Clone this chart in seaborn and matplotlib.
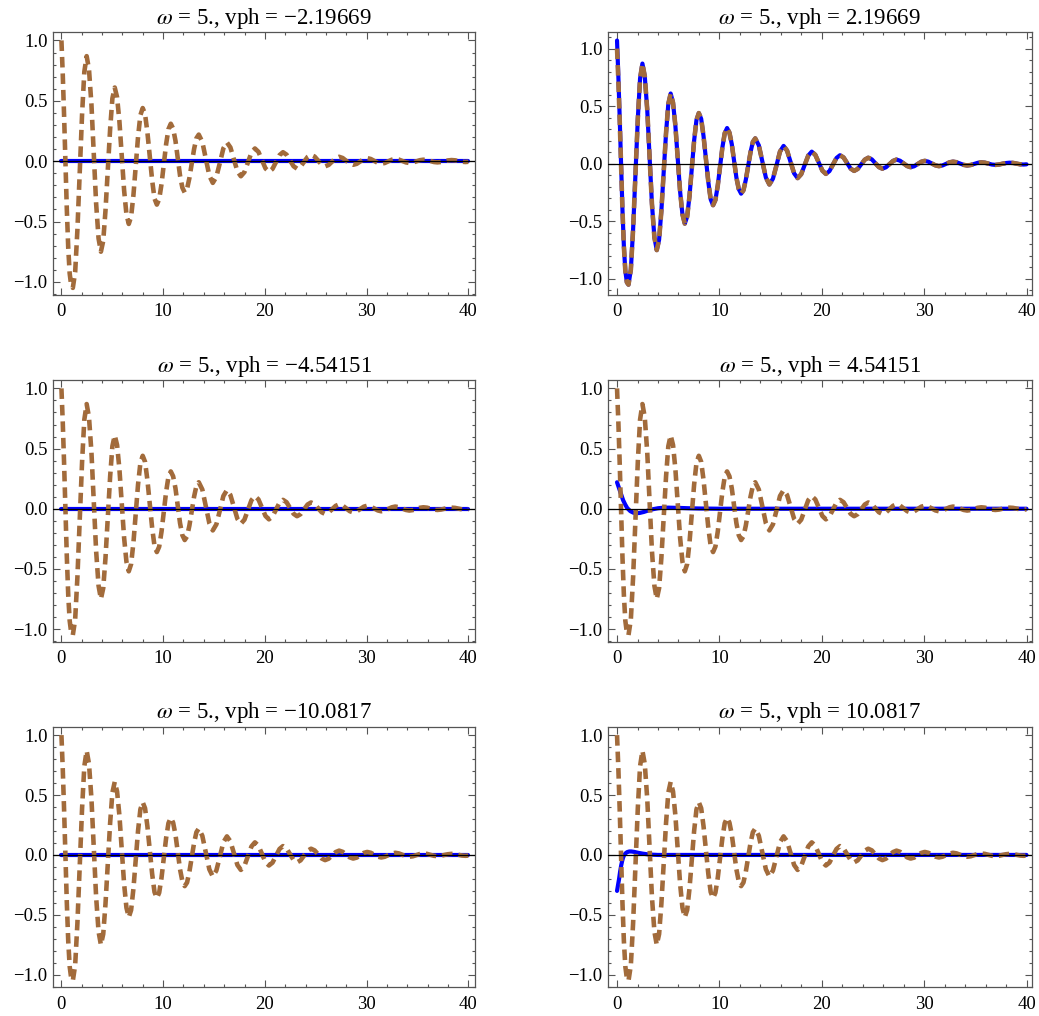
import numpy as np
import pandas as pd
import matplotlib
matplotlib.use("Agg")
import matplotlib.pyplot as plt
import seaborn as sns
from matplotlib.ticker import MultipleLocator

# --- data ---
# brown dashed reference curve (same in every panel)
wave_t = [0.0, 0.13, 0.26, 0.39, 0.53, 0.67, 0.81, 0.96, 1.12,
          1.35, 1.57, 1.80, 2.03, 2.25, 2.48,
          2.71, 2.95, 3.18, 3.41, 3.65, 3.88,
          4.11, 4.33, 4.56, 4.79, 5.01, 5.24,
          5.47, 5.70, 5.93, 6.16, 6.39, 6.62,
          6.85, 7.08, 7.31, 7.53, 7.76, 7.99,
          8.22, 8.45, 8.69, 8.92, 9.15, 9.38,
          9.61, 9.84, 10.07, 10.29, 10.52, 10.75,
          10.98, 11.21, 11.44, 11.66, 11.89, 12.12,
          12.35, 12.58, 12.81, 13.04, 13.27, 13.50,
          13.85, 14.19, 14.54, 14.88,
          15.23, 15.58, 15.92, 16.27,
          16.61, 16.96, 17.30, 17.64,
          17.99, 18.33, 18.68, 19.02,
          19.37, 19.71, 20.06, 20.40,
          20.75, 21.09, 21.44, 21.78,
          22.13, 22.47, 22.82, 23.16,
          23.51, 23.85, 24.20, 24.54,
          24.89, 25.23, 25.58, 25.92,
          26.27, 26.61, 26.96, 27.30,
          27.65, 27.99, 28.34, 28.68,
          29.03, 29.37, 29.72, 30.06,
          30.41, 30.75, 31.10, 31.44,
          31.79, 32.13, 32.48, 32.82,
          33.17, 33.51, 33.86, 34.20,
          34.55, 34.89, 35.24, 35.58,
          35.93, 36.27, 36.62, 36.96,
          37.31, 37.65, 38.00, 38.34,
          38.69, 39.03, 39.38, 39.72, 40.0]
wave_y = [1.00, 0.72, 0.38, 0.00, -0.40, -0.72, -0.93, -1.03, -1.05,
          -0.92, -0.57, -0.09, 0.39, 0.74, 0.87,
          0.76, 0.47, 0.06, -0.35, -0.64, -0.75,
          -0.66, -0.41, -0.07, 0.27, 0.52, 0.61,
          0.53, 0.33, 0.045, -0.24, -0.44, -0.52,
          -0.46, -0.28, -0.04, 0.20, 0.38, 0.44,
          0.39, 0.24, 0.04, -0.16, -0.31, -0.36,
          -0.315, -0.19, -0.025, 0.14, 0.265, 0.31,
          0.27, 0.17, 0.025, -0.12, -0.22, -0.26,
          -0.23, -0.14, -0.02, 0.10, 0.19, 0.22,
          0.16, 0.02, -0.12, -0.18,
          -0.13, -0.013, 0.106, 0.155,
          0.114, 0.015, -0.084, -0.125,
          -0.091, -0.01, 0.071, 0.105,
          0.077, 0.009, -0.060, -0.088,
          -0.064, -0.007, 0.050, 0.074,
          0.054, 0.006, -0.042, -0.062,
          -0.045, -0.005, 0.035, 0.052,
          0.038, 0.005, -0.029, -0.043,
          -0.031, -0.004, 0.024, 0.036,
          0.026, 0.003, -0.020, -0.030,
          -0.022, -0.003, 0.017, 0.025,
          0.018, 0.002, -0.014, -0.021,
          -0.015, -0.002, 0.012, 0.018,
          0.013, 0.002, -0.010, -0.015,
          -0.011, -0.002, 0.008, 0.012,
          0.009, 0.001, -0.007, -0.010,
          -0.007, 0.000, 0.006, 0.009,
          0.007, 0.001, -0.005, -0.007, -0.005]

# blue curves
flat_t = [0.0, 10.0, 20.0, 30.0, 40.0]
flat_y = [0.0, 0.0, 0.0, 0.0, 0.0]

# vph = 2.19669: follows the brown curve, starts a bit higher
head_t = [0.0, 0.13, 0.26]
head_y = [1.07, 0.76, 0.40]

# vph = 4.54151
mid_t = [0.0, 0.2, 0.4, 0.6, 0.8, 1.0, 1.3, 1.6, 1.9, 2.2, 2.6, 3.0, 3.5,
         4.0, 4.5, 5.0, 6.0, 7.0, 8.0, 10.0, 20.0, 30.0, 40.0]
mid_y = [0.22, 0.17, 0.12, 0.07, 0.035, 0.005, -0.02, -0.033, -0.037, -0.035,
         -0.027, -0.016, -0.004, 0.004, 0.008, 0.009, 0.007, 0.004, 0.002,
         0.0, 0.0, 0.0, 0.0]

# vph = 10.0817
high_t = [0.0, 0.1, 0.2, 0.3, 0.4, 0.5, 0.6, 0.7, 0.85, 1.0, 1.2, 1.4, 1.7,
          2.0, 2.5, 3.0, 3.5, 4.0, 5.0, 10.0, 20.0, 30.0, 40.0]
high_y = [-0.30, -0.25, -0.20, -0.14, -0.09, -0.05, -0.02, 0.0, 0.015, 0.024,
          0.029, 0.029, 0.025, 0.019, 0.011, 0.005, 0.002, 0.0, 0.0, 0.0,
          0.0, 0.0, 0.0]

vph_labels = ["\u22122.19669", "2.19669",
              "\u22124.54151", "4.54151",
              "\u221210.0817", "10.0817"]

blue_t = [flat_t, head_t + wave_t[3:], flat_t, mid_t, flat_t, high_t]
blue_y = [flat_y, head_y + wave_y[3:], flat_y, mid_y, flat_y, high_y]

# --- style ---
sns.set_style("ticks")
plt.rcParams["font.family"] = ["Liberation Serif", "DejaVu Serif"]
plt.rcParams["mathtext.fontset"] = "stix"
plt.rcParams["axes.unicode_minus"] = True
plt.rcParams["text.color"] = "black"
plt.rcParams["xtick.labelcolor"] = "black"
plt.rcParams["ytick.labelcolor"] = "black"

BROWN = "#a26b3b"
BLUE = "#0000ff"
FRAME = "#555555"

fig = plt.figure(figsize=(10.39, 10.16), dpi=100)

col_x = [(0.0510, 0.4062), (0.5852, 0.4076)]
row_y = [(0.7101, 0.2584), (0.3684, 0.2576), (0.0282, 0.2565)]
xlims = [(-0.83, 40.66), (-0.88, 40.49)]

for i in range(6):
    r, c = divmod(i, 2)
    ax = fig.add_axes([col_x[c][0], row_y[r][0], col_x[c][1], row_y[r][1]])

    blue_df = pd.DataFrame({"t": blue_t[i], "y": blue_y[i]})
    wave_df = pd.DataFrame({"t": wave_t, "y": wave_y})

    sns.lineplot(data=blue_df, x="t", y="y", ax=ax, color=BLUE, lw=3.0,
                 estimator=None, sort=False, solid_capstyle="round", zorder=2)
    sns.lineplot(data=wave_df, x="t", y="y", ax=ax, color=BROWN, lw=3.3,
                 estimator=None, sort=False, linestyle=(0, (2.3, 1.3)), zorder=3)
    ax.axhline(0, color="black", lw=0.9, zorder=4)

    ax.set_xlim(*xlims[c])
    if i == 1:
        ax.set_ylim(-1.136, 1.144)
    else:
        ax.set_ylim(-1.105, 1.07)

    ax.xaxis.set_major_locator(MultipleLocator(10))
    ax.xaxis.set_minor_locator(MultipleLocator(2))
    ax.yaxis.set_major_locator(MultipleLocator(0.5))
    ax.yaxis.set_minor_locator(MultipleLocator(0.1))
    ax.yaxis.set_major_formatter(plt.FuncFormatter(
        lambda v, p: f"{v:.1f}".replace("-", "\u2212")))
    ax.tick_params(which="both", direction="in", top=True, right=True,
                   color=FRAME, width=0.8, labelsize=13.5, labelcolor="black")
    ax.tick_params(which="major", length=5)
    ax.tick_params(which="minor", length=2.5)
    ax.tick_params(axis="x", pad=6)
    ax.tick_params(axis="y", pad=4)
    for s in ax.spines.values():
        s.set_color(FRAME)
        s.set_linewidth(0.9)

    ax.set_xlabel("")
    ax.set_ylabel("")
    ax.set_title(r"$\omega$ = 5., vph = " + vph_labels[i], fontsize=16.5,
                 pad=6, color="black")

fig.savefig("out.png", dpi=100)
